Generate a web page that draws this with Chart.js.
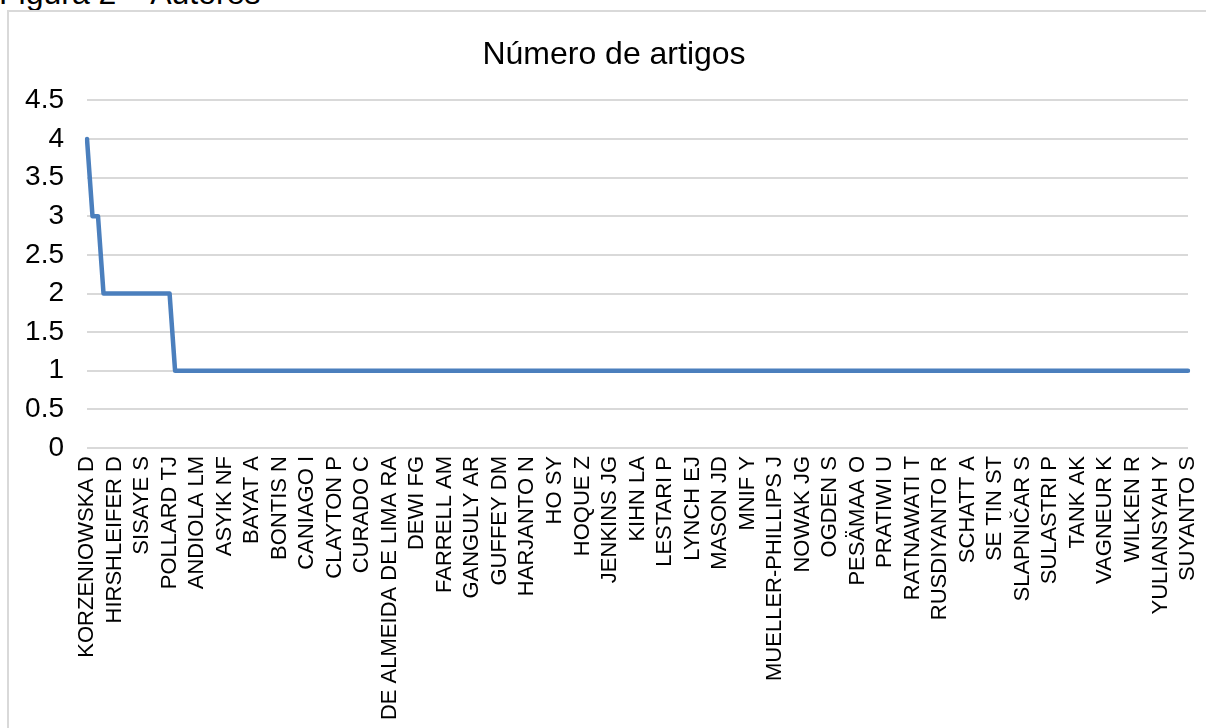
<!DOCTYPE html>
<html>
<head>
<meta charset="utf-8">
<script src="https://cdn.jsdelivr.net/npm/chart.js"></script>
<style>
    html, body { margin: 0; padding: 0; background: #fff; overflow: hidden; }
    body { width: 1206px; height: 728px; position: relative; }
    #caption {
        position: absolute; left: -1px; top: -23px;
        font: 32px 'Liberation Sans', Arial, sans-serif; line-height: 32px;
        color: #000; white-space: nowrap;
    }
    #frame {
        position: absolute; left: 7px; top: 10px; width: 1210px; height: 740px;
        border: 2px solid #d9d9d9; box-sizing: border-box;
    }
    #wrap { position: absolute; left: 0; top: 0; width: 1206px; height: 728px; }
</style>
</head>
<body>
<div id="caption">Figura 2 – Autores</div>
<div id="frame"></div>
<div id="wrap"><canvas id="autoresChart"></canvas></div>
<script>
const title = 'Número de artigos'

// names printed under the axis (every 5th author)
const autores = [
    'KORZENIOWSKA D', 'HIRSHLEIFER D', 'SISAYE S', 'POLLARD TJ', 'ANDIOLA LM',
    'ASYIK NF', 'BAYAT A', 'BONTIS N', 'CANIAGO I', 'CLAYTON P',
    'CURADO C', 'DE ALMEIDA DE LIMA RA', 'DEWI FG', 'FARRELL AM', 'GANGULY AR',
    'GUFFEY DM', 'HARJANTO N', 'HO SY', 'HOQUE Z', 'JENKINS JG',
    'KIHN LA', 'LESTARI P', 'LYNCH EJ', 'MASON JD', 'MNIF Y',
    'MUELLER-PHILLIPS J', 'NOWAK JG', 'OGDEN S', 'PESÄMAA O', 'PRATIWI U',
    'RATNAWATI T', 'RUSDIYANTO R', 'SCHATT A', 'SE TIN ST', 'SLAPNIČAR S',
    'SULASTRI P', 'TANK AK', 'VAGNEUR K', 'WILKEN R', 'YULIANSYAH Y',
    'SUYANTO S'
]

// articles per author (201 authors)
const artigos = [
    4, 3, 3, 2, 2, 2, 2, 2, 2, 2, 2, 2, 2, 2, 2, 2, 1, 1, 1, 1,
    1, 1, 1, 1, 1, 1, 1, 1, 1, 1, 1, 1, 1, 1, 1, 1, 1, 1, 1, 1,
    1, 1, 1, 1, 1, 1, 1, 1, 1, 1, 1, 1, 1, 1, 1, 1, 1, 1, 1, 1,
    1, 1, 1, 1, 1, 1, 1, 1, 1, 1, 1, 1, 1, 1, 1, 1, 1, 1, 1, 1,
    1, 1, 1, 1, 1, 1, 1, 1, 1, 1, 1, 1, 1, 1, 1, 1, 1, 1, 1, 1,
    1, 1, 1, 1, 1, 1, 1, 1, 1, 1, 1, 1, 1, 1, 1, 1, 1, 1, 1, 1,
    1, 1, 1, 1, 1, 1, 1, 1, 1, 1, 1, 1, 1, 1, 1, 1, 1, 1, 1, 1,
    1, 1, 1, 1, 1, 1, 1, 1, 1, 1, 1, 1, 1, 1, 1, 1, 1, 1, 1, 1,
    1, 1, 1, 1, 1, 1, 1, 1, 1, 1, 1, 1, 1, 1, 1, 1, 1, 1, 1, 1,
    1, 1, 1, 1, 1, 1, 1, 1, 1, 1, 1, 1, 1, 1, 1, 1, 1, 1, 1, 1,
    1
]

const yTicks = ['0', '0.5', '1', '1.5', '2', '2.5', '3', '3.5', '4', '4.5']

// unnamed authors in between get a blank label
const labels = artigos.map((v, i) => (i % 5 === 0 ? autores[i / 5] : ''))

const font = 'Liberation Sans, Arial, sans-serif'

// title is centred on the whole frame, not just the plot
const shiftTitle = {
    id: 'shiftTitle',
    afterLayout(chart) {
        if (chart.titleBlock) chart.titleBlock.left = 40
    }
}

new Chart(document.getElementById('autoresChart'), {
    type: 'line',
    data: {
        labels: labels,
        datasets: [{
            label: title,
            data: artigos,
            borderColor: '#4b7fbd',
            borderWidth: 4.5,
            pointRadius: 0,
            tension: 0,
            fill: false,
            borderCapStyle: 'round',
            borderJoinStyle: 'round'
        }]
    },
    plugins: [shiftTitle],
    options: {
        responsive: true,
        maintainAspectRatio: false,
        animation: false,
        layout: { padding: { top: 11, left: 10, right: 18, bottom: 0 } },
        plugins: {
            legend: { display: false },
            tooltip: { enabled: false },
            title: {
                display: true,
                text: title,
                color: '#000',
                font: { family: font, size: 32, weight: 'normal' },
                padding: { top: 25, bottom: 26 }
            }
        },
        scales: {
            x: {
                type: 'category',
                offset: false,
                grid: { display: false, drawTicks: false },
                border: { display: false },
                ticks: {
                    autoSkip: false,
                    minRotation: 90,
                    maxRotation: 90,
                    padding: 8,
                    color: '#000',
                    font: { family: font, size: 22 }
                },
                afterFit(scale) {
                    scale.height = 280
                    scale.paddingLeft = 0
                    scale.paddingRight = 0
                }
            },
            y: {
                min: 0,
                max: 4.5,
                grid: { color: '#d9d9d9', lineWidth: 2, drawTicks: false },
                border: { display: false },
                ticks: {
                    stepSize: 0.5,
                    padding: 23,
                    color: '#000',
                    font: { family: font, size: 28 },
                    callback: (v, i) => yTicks[i]
                },
                afterFit(scale) { scale.width = 77 }
            }
        }
    }
})
</script>
</body>
</html>
